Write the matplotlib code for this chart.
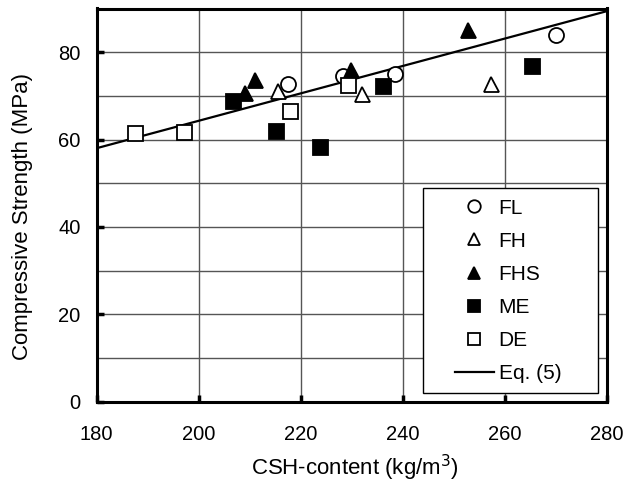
import matplotlib
matplotlib.use("Agg")
import matplotlib.pyplot as plt
from matplotlib.ticker import MultipleLocator
from matplotlib.patches import Rectangle

plt.rcParams['font.family'] = ['Liberation Sans', 'DejaVu Sans']

# Data
fl_x = [217.6, 228.2, 238.4, 270.1]
fl_y = [72.8, 74.5, 75.1, 83.9]

fh_x = [215.5, 232.1, 257.2]
fh_y = [71.1, 70.5, 72.8]

fhs_x = [209.0, 211.1, 229.9, 252.8]
fhs_y = [70.7, 73.6, 75.9, 85.0]

me_x = [206.8, 215.2, 223.7, 236.2, 265.4]
me_y = [68.8, 61.9, 58.2, 72.2, 76.8]

de_x = [187.6, 197.2, 218.0, 229.2]
de_y = [61.5, 61.7, 66.5, 72.4]

eq_x = [180, 280]
eq_y = [58.0, 89.4]

W, H = 630, 484
fig = plt.figure(figsize=(6.3, 4.84), dpi=100)
ax = fig.add_axes([96.5 / W, 1 - 401.5 / H, 510.5 / W, 393 / H])

ms = 10.8
ax.plot(fl_x, fl_y, 'o', ms=ms, mfc='white', mec='black', mew=1.3, label='FL', zorder=4)
ax.plot(fh_x, fh_y, '^', ms=ms, mfc='white', mec='black', mew=1.3, label='FH', zorder=4)
ax.plot(fhs_x, fhs_y, '^', ms=ms, mfc='black', mec='black', mew=1.3, label='FHS', zorder=4)
ax.plot(me_x, me_y, 's', ms=ms, mfc='black', mec='black', mew=1.3, label='ME', zorder=4)
ax.plot(de_x, de_y, 's', ms=ms, mfc='white', mec='black', mew=1.3, label='DE', zorder=4)
ax.plot(eq_x, eq_y, '-', color='black', lw=1.6, label='Eq. (5)', zorder=3)

ax.set_xlim(180, 280)
ax.set_ylim(0, 90)
ax.xaxis.set_major_locator(MultipleLocator(20))
ax.yaxis.set_major_locator(MultipleLocator(20))
ax.yaxis.set_minor_locator(MultipleLocator(10))
ax.grid(True, which='major', color='#555555', lw=1.0)
ax.grid(True, which='minor', axis='y', color='#555555', lw=1.0)
ax.set_axisbelow(True)

ax.tick_params(axis='both', which='major', direction='in', length=5, width=2.5,
               labelsize=14.5)
ax.tick_params(axis='x', which='major', pad=17)
ax.tick_params(axis='y', which='major', pad=11.5)
ax.tick_params(axis='y', which='minor', left=False)
for s in ax.spines.values():
    s.set_linewidth(2.2)

fig.text(355 / W, 1 - 468 / H, 'CSH-content (kg/m$^3$)', fontsize=16,
         ha='center', va='center')
fig.text(23 / W, 1 - 216 / H, 'Compressive Strength (MPa)', fontsize=16,
         ha='center', va='center', rotation=90)

# legend entries (frame drawn separately)
fs_leg = 15
leg = ax.legend(loc='upper left',
                bbox_to_anchor=((455 - 96.5) / 510.5, (401.5 - 198.5) / 393),
                fontsize=fs_leg, frameon=False,
                labelspacing=0.68, handlelength=1.85, borderpad=0,
                handletextpad=0.25, borderaxespad=0)
for h in leg.legend_handles:
    if hasattr(h, 'set_markersize'):
        h.set_markersize(9)

frame = Rectangle(((423 - 96.5) / 510.5, (401.5 - 393) / 393),
                  (598 - 423) / 510.5, (393 - 188) / 393,
                  transform=ax.transAxes, facecolor='white', edgecolor='black',
                  lw=1.0, zorder=5)
ax.add_patch(frame)
leg.set_zorder(6)

fig.savefig('out.png', dpi=100)
